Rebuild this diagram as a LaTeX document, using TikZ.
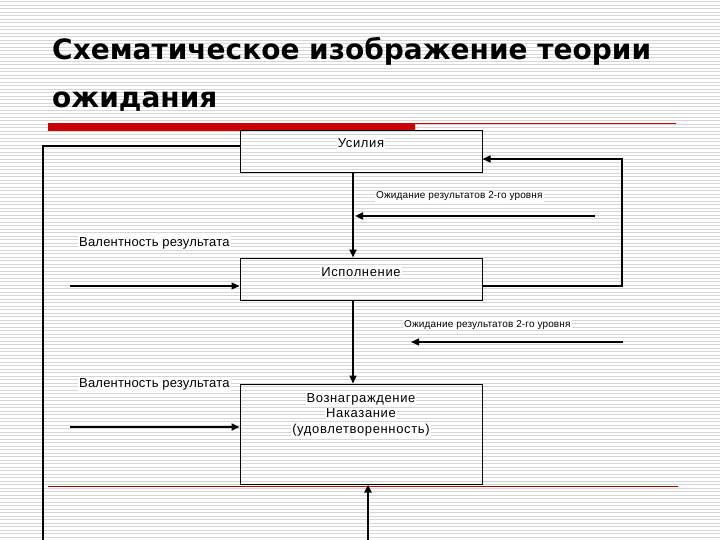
\documentclass[tikz,border=0pt]{standalone}
\usepackage{fontspec}
\setmainfont{Liberation Sans}
\newfontfamily\titlefont{DejaVu Sans}
\newfontfamily\boxfont{Liberation Sans}[LetterSpace=5]
\newfontfamily\lblfont{Liberation Sans}[LetterSpace=1.5]
\usetikzlibrary{arrows.meta}
\definecolor{stripe}{HTML}{D6D6D6}
\definecolor{redbar}{HTML}{CC0000}
\tikzset{
  box/.style={draw=black, line width=1pt, inner sep=0pt},
  txt/.style={inner sep=1pt, fill=white, anchor=base, font=\boxfont\fontsize{13}{15.5}\selectfont},
  lbl/.style={inner sep=1pt, fill=white, anchor=base west, font=\lblfont\fontsize{13}{15.5}\selectfont},
  small/.style={inner sep=1pt, fill=white, anchor=base west, font=\lblfont\fontsize{10}{12}\selectfont},
  ttl/.style={inner sep=0pt, anchor=base west, font=\titlefont\bfseries\fontsize{28}{34}\selectfont},
  thin/.style={draw=black, line width=1.2pt},
  heavy/.style={draw=black, line width=2.4pt},
  tip/.style={-{Triangle[length=8pt,width=7pt]}},
}
\begin{document}
\begin{tikzpicture}[x=1pt,y=-1pt]
\useasboundingbox (0,0) rectangle (720,540);
\fill[white] (0,0) rectangle (720,540);
\foreach \i in {0,...,154} {
  \draw[stripe, line width=1.1pt] (0,{1.75+3.5*\i}) -- (720,{1.75+3.5*\i});
}
% title
\node[ttl] (t1) at (52,60) {Схематическое изображение теории};
\node[ttl] (t2) at (52,108) {ожидания};
% red rules
\fill[redbar] (48,123) rectangle (415,131);
\draw[redbar, line width=1pt] (415,124) -- (676,124);
\draw[redbar!85!black, line width=1pt] (48,486) -- (678,486);
% boxes
\node[box, minimum width=242pt, minimum height=42pt] (usil) at (361,152) {};
\node[box, minimum width=242pt, minimum height=42pt] (isp) at (361,279) {};
\node[box, minimum width=242pt, minimum height=100pt] (voz) at (361,434) {};
\node[txt] (usilT) at (361,148) {Усилия};
\node[txt] (ispT) at (361,276) {Исполнение};
\node[txt] (vozT1) at (361,402) {Вознаграждение};
\node[txt] (vozT2) at (361,417.5) {Наказание};
\node[txt] (vozT3) at (361,433) {(удовлетворенность)};
% labels
\node[small] (exp1) at (375,199) {Ожидание результатов 2-го уровня};
\node[small] (exp2) at (403,327) {Ожидание результатов 2-го уровня};
\node[lbl] (val1) at (78,246) {Валентность результата};
\node[lbl] (val2) at (78,387) {Валентность результата};
% coordinates
\coordinate (e1) at (595,216);
\coordinate (e1end) at (355,216);
\coordinate (e2) at (623,342);
\coordinate (e2end) at (411,342);
\coordinate (v1) at (70,286);
\coordinate (v2) at (70,427);
\coordinate (v2b) at (105,427);
\coordinate (rloop) at (622,286);
\coordinate (lloopB) at (43,545);
\coordinate (lloopT) at (43,146);
\coordinate (bottom) at (368,545);
% connectors
\draw[heavy, tip] ([xshift=-8pt]usil.south) -- ([xshift=-8pt]isp.north);
\draw[heavy, tip] (e1) -- (e1end);
\draw[thin, tip] ([yshift=-7pt]isp.east) -- (rloop) |- ([yshift=-7pt]usil.east);
\draw[thin, tip] (v1) -- ([yshift=-7pt]isp.west);
\draw[thin, line width=1.6pt, tip] ([xshift=-8pt]isp.south) -- ([xshift=-8pt]voz.north);
\draw[thin, tip] (e2) -- (e2end);
\draw[thin] (v2) -- (v2b);
\draw[thin, line width=1.8pt, tip] (v2b) -- ([yshift=7pt]voz.west);
\draw[heavy, tip] (bottom) -- ([xshift=7pt]voz.south);
\draw[thin] (lloopB) -- (lloopT) -- ([yshift=6pt]usil.west);
\end{tikzpicture}
\end{document}
